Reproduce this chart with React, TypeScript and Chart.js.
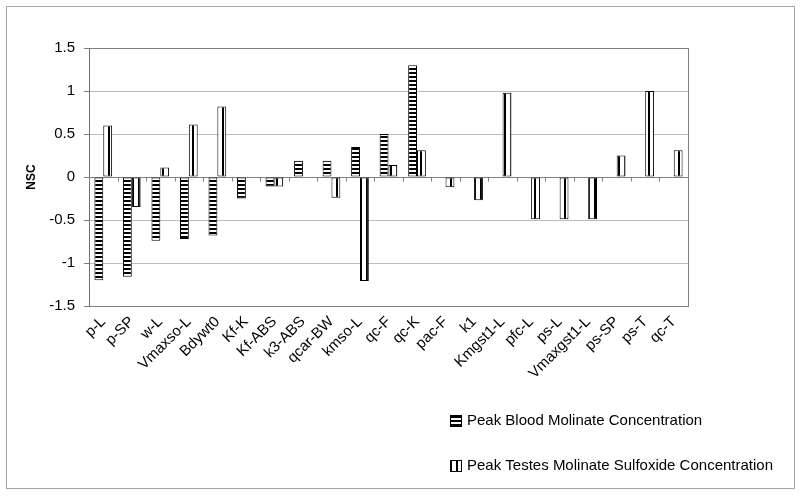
import React, { useEffect, useRef } from 'react';
import { Chart, registerables } from 'chart.js';

Chart.register(...registerables);

const categories = ['p-L', 'p-SP', 'w-L', 'Vmaxso-L', 'Bdywt0', 'Kf-K', 'Kf-ABS', 'k3-ABS', 'qcar-BW', 'kmso-L', 'qc-F', 'qc-K', 'pac-F', 'k1', 'Kmgst1-L', 'pfc-L', 'ps-L', 'Vmaxgst1-L', 'ps-SP', 'ps-T', 'qc-T'];
const bloodValues = [-1.2, -1.16, -0.74, -0.72, -0.68, -0.25, -0.11, 0.19, 0.19, 0.35, 0.5, 1.3, null, null, null, null, null, null, null, null, null];
const testesValues = [0.6, -0.35, 0.11, 0.61, 0.82, null, -0.11, null, -0.24, -1.21, 0.14, 0.31, -0.12, -0.27, 0.98, -0.49, -0.49, -0.49, 0.25, 1.0, 0.31];
const seriesNames = ['Peak Blood Molinate Concentration', 'Peak Testes Molinate Sulfoxide Concentration'];
const yMin = -1.5;
const yMax = 1.5;
const yStep = 0.5;
const yTitle = 'NSC';

const FONT = '"Liberation Sans", Arial, sans-serif';

function makePattern(kind: 'h' | 'v'): CanvasPattern | string {
  const c = document.createElement('canvas');
  const size = kind === 'h' ? 4 : 6;
  c.width = size;
  c.height = size;
  const ctx = c.getContext('2d');
  if (!ctx) return '#888';
  ctx.fillStyle = '#ffffff';
  ctx.fillRect(0, 0, size, size);
  ctx.fillStyle = '#000000';
  if (kind === 'h') ctx.fillRect(0, 0, size, 2);
  else ctx.fillRect(0, 0, 2, size);
  return ctx.createPattern(c, 'repeat') || '#888';
}

export default function App() {
  const ref = useRef<HTMLCanvasElement | null>(null);

  useEffect(() => {
    document.body.style.margin = '0';
    const canvas = ref.current;
    if (!canvas) return;
    const hPat = makePattern('h');
    const vPat = makePattern('v');
    const patterns = [hPat, vPat];

    const framePlugin = {
      id: 'framePlugin',
      beforeDraw(chart: any) {
        const ctx = chart.ctx;
        ctx.save();
        ctx.fillStyle = '#ffffff';
        ctx.fillRect(0, 0, chart.width, chart.height);
        ctx.strokeStyle = '#a6a6a6';
        ctx.lineWidth = 1;
        ctx.strokeRect(6.5, 6.5, 788, 482);
        ctx.restore();
      },
      afterDraw(chart: any) {
        const ctx = chart.ctx;
        const area = chart.chartArea;
        const xs = chart.scales.x;
        const ys = chart.scales.y;
        ctx.save();
        ctx.strokeStyle = '#808080';
        ctx.lineWidth = 1;
        ctx.beginPath();
        ctx.moveTo(Math.round(area.right) + 0.5, area.top);
        ctx.lineTo(Math.round(area.right) + 0.5, area.bottom);
        ctx.stroke();
        const y0 = Math.round(ys.getPixelForValue(0)) + 0.5;
        ctx.beginPath();
        for (let i = 0; i <= categories.length; i++) {
          const x = Math.round(xs.getPixelForValue(i - 0.5)) + 0.5;
          ctx.moveTo(x, y0);
          ctx.lineTo(x, y0 + 4);
        }
        ctx.stroke();
        const items = [
          { y: 421, label: seriesNames[0], pat: patterns[0] },
          { y: 466, label: seriesNames[1], pat: patterns[1] },
        ];
        ctx.font = '15px ' + FONT;
        ctx.textBaseline = 'middle';
        ctx.textAlign = 'left';
        for (const it of items) {
          ctx.fillStyle = it.pat;
          ctx.fillRect(451, it.y - 5, 10, 10);
          ctx.strokeStyle = '#000';
          ctx.strokeRect(450.5, it.y - 5.5, 11, 11);
          ctx.fillStyle = '#000';
          ctx.fillText(it.label, 467, it.y);
        }
        ctx.restore();
      },
    };

    const chart = new Chart(canvas, {
      type: 'bar',
      data: {
        labels: categories,
        datasets: [
          {
            label: seriesNames[0],
            data: bloodValues as any,
            backgroundColor: hPat as any,
            borderColor: '#000000',
            borderWidth: 1,
            borderSkipped: false,
          },
          {
            label: seriesNames[1],
            data: testesValues as any,
            backgroundColor: vPat as any,
            borderColor: '#000000',
            borderWidth: 1,
            borderSkipped: false,
          },
        ],
      },
      options: {
        responsive: false,
        animation: false,
        maintainAspectRatio: false,
        layout: { padding: { left: 0, top: 48, right: 112, bottom: 0 } },
        datasets: { bar: { categoryPercentage: 0.62, barPercentage: 1 } },
        plugins: {
          legend: { display: false },
          tooltip: { enabled: false },
          title: { display: false },
        },
        scales: {
          x: {
            type: 'category',
            grid: { display: false, drawTicks: false },
            border: { display: true, color: '#808080', width: 1 },
            ticks: {
              autoSkip: false,
              maxRotation: 45,
              minRotation: 45,
              padding: 7,
              color: '#000000',
              font: { family: FONT, size: 15 },
            },
            afterFit(scale: any) {
              scale.height = 190;
            },
          },
          y: {
            min: yMin,
            max: yMax,
            grid: {
              color: (c: any) => {
                const v = c.tick ? c.tick.value : null;
                if (v === 0 || v === yMin || v === yMax) return '#808080';
                return '#bdbdbd';
              },
              tickColor: '#808080',
              tickLength: 5,
              drawTicks: true,
            },
            border: { display: true, color: '#707070', width: 1 },
            ticks: {
              stepSize: yStep,
              padding: 9,
              color: '#000000',
              font: { family: FONT, size: 15 },
              callback: (v: any) => String(v),
            },
            title: {
              display: true,
              text: yTitle,
              color: '#000000',
              font: { family: FONT, size: 12, weight: 'bold' },
              padding: { top: 24, bottom: 0 },
            },
            afterFit(scale: any) {
              scale.width = 89;
            },
          },
        },
      },
      plugins: [framePlugin],
    } as any);

    return () => {
      chart.destroy();
    };
  }, []);

  return (
    <div style={{ width: 800, height: 496 }}>
      <canvas ref={ref} width={800} height={496} style={{ display: 'block', width: 800, height: 496 }} />
    </div>
  );
}
